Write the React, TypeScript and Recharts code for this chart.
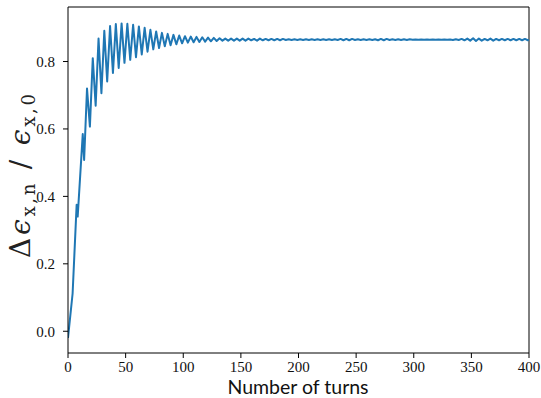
import React from "react";
import { LineChart, Line, XAxis, YAxis, ReferenceLine } from "recharts";

// Initial ramp (turn, value)
const ramp: [number, number][] = [
  [0, -0.02], [4, 0.112], [7.5, 0.375], [8.4, 0.34], [12.8, 0.585],
];

// Strong ringing (turn, value)
const ringing: [number, number][] = [
  [14, 0.508], [16.5, 0.72], [19, 0.607], [21.5, 0.81], [24, 0.669],
  [26.5, 0.868], [29, 0.706], [31.5, 0.891], [34, 0.741], [36.5, 0.905],
  [39, 0.766], [41.5, 0.911], [44, 0.781], [46.5, 0.913], [49, 0.796],
  [51.5, 0.912], [54, 0.805], [56.5, 0.909], [59, 0.813], [61.5, 0.904],
  [64, 0.821], [66.5, 0.9], [69, 0.829], [71.5, 0.894], [74, 0.836],
  [76.5, 0.889], [79, 0.84], [81.5, 0.885], [84, 0.845], [86.5, 0.882],
  [89, 0.848], [91.5, 0.879], [94, 0.851], [96.5, 0.877], [99, 0.854],
  [101.5, 0.875], [104, 0.856], [106.5, 0.874], [109, 0.857], [111.5, 0.873],
  [114, 0.858], [116.5, 0.872], [119, 0.859], [121.5, 0.871], [124, 0.86],
  [126.5, 0.87], [129, 0.861], [131.5, 0.869], [134, 0.862], [136.5, 0.868],
  [139, 0.862], [141.5, 0.868],
];

// Settled tail (turn, value)
const tail: [number, number][] = [
  [144, 0.862], [146.5, 0.868], [149, 0.862], [151.5, 0.868], [154, 0.862],
  [156.5, 0.868], [159, 0.863], [161.5, 0.867], [164, 0.862], [166.5, 0.868],
  [169, 0.863], [171.5, 0.867], [174, 0.863], [176.5, 0.867], [179, 0.863],
  [181.5, 0.867], [184, 0.863], [186.5, 0.867], [189, 0.864], [191.5, 0.866],
  [194, 0.864], [196.5, 0.866], [199, 0.864], [201.5, 0.866], [204, 0.864],
  [206.5, 0.866], [209, 0.864], [211.5, 0.866], [214, 0.864], [216.5, 0.866],
  [219, 0.864], [221.5, 0.866], [224, 0.864], [226.5, 0.866], [229, 0.864],
  [231.5, 0.866], [234, 0.864], [236.5, 0.867], [239, 0.863], [241.5, 0.867],
  [244, 0.863], [246.5, 0.867], [249, 0.864], [251.5, 0.866], [254, 0.864],
  [256.5, 0.866], [259, 0.864], [261.5, 0.866], [264, 0.864], [266.5, 0.866],
  [269, 0.863], [271.5, 0.867], [274, 0.863], [276.5, 0.867], [279, 0.864],
  [281.5, 0.866], [284, 0.864], [286.5, 0.866], [289, 0.864], [291.5, 0.866],
  [294, 0.864], [296.5, 0.866], [299, 0.8645], [301.5, 0.8655], [304, 0.8645],
  [306.5, 0.8655], [309, 0.8645], [311.5, 0.8655], [314, 0.8645], [316.5, 0.8655],
  [319, 0.8645], [321.5, 0.8655], [324, 0.8645], [326.5, 0.8655], [329, 0.8645],
  [331.5, 0.8655], [334, 0.864], [336.5, 0.866], [339, 0.864], [341.5, 0.867],
  [344, 0.863], [346.5, 0.868], [349, 0.862], [351.5, 0.869], [354, 0.861],
  [356.5, 0.868], [359, 0.862], [361.5, 0.867], [364, 0.863], [366.5, 0.868],
  [369, 0.862], [371.5, 0.867], [374, 0.863], [376.5, 0.867], [379, 0.863],
  [381.5, 0.867], [384, 0.863], [386.5, 0.867], [389, 0.863], [391.5, 0.867],
  [394, 0.863], [396.5, 0.867], [399, 0.863], [400, 0.865],
];

const xTicks = [0, 50, 100, 150, 200, 250, 300, 350, 400];
const yTicks = [0, 0.2, 0.4, 0.6, 0.8];
const Y_MIN = -0.0645;
const Y_MAX = 0.9617;

const data = [...ramp, ...ringing, ...tail].map(([turn, v]) => ({ turn, v }));

const tickStyle = { fontFamily: "Liberation Serif, DejaVu Serif, serif", fontSize: 15, fill: "#111" };

export default function App() {
  return (
    <div style={{ position: "absolute", left: 0, top: 0, width: 541, height: 398, background: "#fff" }}>
      <LineChart width={541} height={398} data={data} margin={{ top: 7, right: 12, left: 0, bottom: 0 }}>
        <XAxis
          dataKey="turn"
          type="number"
          domain={[0, 400]}
          ticks={xTicks}
          allowDataOverflow
          height={45}
          tickSize={5}
          tickMargin={3}
          stroke="#000"
          tick={tickStyle}
          interval={0}
        />
        <YAxis
          type="number"
          domain={[Y_MIN, Y_MAX]}
          ticks={yTicks}
          allowDataOverflow
          width={68}
          tickSize={5}
          tickMargin={8}
          stroke="#000"
          tick={tickStyle}
          tickFormatter={(v: number) => v.toFixed(1)}
          interval={0}
        />
        <ReferenceLine y={Y_MAX} stroke="#000" strokeWidth={1} />
        <ReferenceLine x={400} stroke="#000" strokeWidth={1} />
        <Line
          dataKey="v"
          type="linear"
          stroke="#1f77b4"
          strokeWidth={2}
          dot={false}
          isAnimationActive={false}
          strokeLinejoin="round"
        />
      </LineChart>
      <svg width={541} height={398} style={{ position: "absolute", left: 0, top: 0, pointerEvents: "none" }}>
        <text x={298} y={394} textAnchor="middle" fontFamily="Lato, sans-serif" fontSize={19.5} fill="#111">
          Number of turns
        </text>
        <text
          transform="translate(30,176) rotate(-90)"
          textAnchor="middle"
          fontFamily="DejaVu Serif, Liberation Serif, serif"
          fontSize={28}
          fill="#222"
          textLength={164}
          lengthAdjust="spacing"
        >
          <tspan>Δ</tspan>
          <tspan fontStyle="italic">ϵ</tspan>
          <tspan fontSize={18} dy={5}>x,n</tspan>
          <tspan dy={-5}> / </tspan>
          <tspan fontStyle="italic">ϵ</tspan>
          <tspan fontSize={18} dy={5}>x,0</tspan>
        </text>
      </svg>
    </div>
  );
}
